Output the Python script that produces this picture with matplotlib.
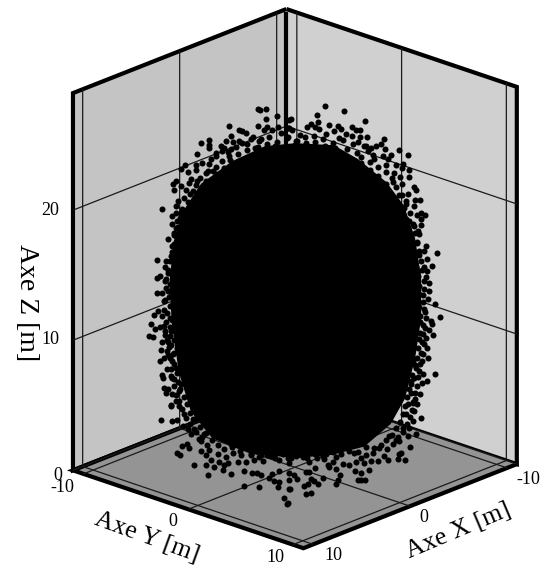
import matplotlib
matplotlib.use('Agg')
import matplotlib.pyplot as plt
import numpy as np
from mpl_toolkits.mplot3d.art3d import Poly3DCollection

plt.rcParams['font.family'] = ['Liberation Serif', 'DejaVu Serif']

x_lim = (-11, 11)
y_lim = (-11, 11)
z_lim = (0, 29)
x_ticks = [-10, 0, 10]
y_ticks = [-10, 0, 10]
z_ticks = [0, 10, 20]

# solid black middle of the cloud, outline (across = along the screen, z up)
core_across = [0, 1.9, 3.1, 4.5, 5.35, 5.9, 6.2, 6.2, 5.9, 5.4, 4.7, 3.4, 1.8, 0, -2.25, -4.1,
               -5.15, -5.75, -6.1, -6.2, -6.0, -5.5, -4.65, -3.1, -1.5]
core_z = [24.9, 24.7, 23.6, 21.8, 20.0, 17.5, 14.43, 11.36, 8.29, 5.22, 3.3, 1.6, 1.0, 0.8, 1.2, 2.4,
          4.45, 7.52, 11.36, 14.43, 17.5, 19.9, 21.9, 23.6, 24.7]

# dots around the edge of the cloud, depth can not be read from the picture so
# these sit on the plane x = -y through the middle
mid_across = [-1.83, -1.72, -1.44, -1.44, -0.91, -1.83, -3.26, -2.76, -2.64, -2.41, -3.17, -3.42, -4.26, -4.64, -4.25, -4.25,
              -4.83, -3.64, -3.5, -3.92, -5.45, -5.65, -5.32, -4.88, -4.88, -6.02, -5.87, -5.98, -5.65, -6.61, -5.77, -5.87,
              -6.07, -5.87, -6.07, -5.87, -6.31, -5.98,
              -1.36, -1.52, -1.11, -0.86, -0.69, -0.36, -0.28, -2.07, -1.69, -2.35, -2.76, -3.09, -3.17, -3.59, -3.92, -4.17,
              -4.58, -4.25, -4.41, -4.08, -5.16, -5.24, -4.83, -5.4, -5.07, -5.49, -4.91, -5.65, -5.24, -5.82, -5.4, -5.98,
              -5.65, -3.26, -2.84, -2.35, -1.85, -1.36,
              1.49, 2.41, 1.12, 1.16, -0.2, 3.49, 0.58, 0.79, 1.01, 1.21, 1.67, 2.12, 2.83, 3.02, 3.22, 2.81,
              3.22, 3.57, 0.26, 1.95, 2.28, 2.53, 4.43, 4.26, 4.01, 3.77, 4.46, 3.52, 5.17, 5.6, 4.76, 4.6,
              4.35, 5.34, 5.29, 5.65, 5.65, 5.22, 5.29, 5.92, 6.0, 5.59, 6.21, 5.97, 5.92, 6.46, 6.25, 6.05,
              6.25, 6.25, 5.92, 6.08, 6.17, 5.01, 4.93, 4.51, 4.84, 5.17, 5.5, 5.67, 5.42, 3.85, 3.93, 3.11,
              3.44, 2.2, 1.54, 0.96, 0.55, 0.05, -0.28, -0.12, -0.36,
              -6.81, -6.41, -6.15, -6.43, -6.68, -6.81, -6.43, -6.07, -6.84, -6.61, -6.31, -6.43, -6.97, -6.77, -6.6, -6.48,
              -7.14, -6.91, -6.69, -6.48, -7.22, -7.05, -6.43, -6.15, -6.61, -6.35, -5.98, -6.64, -6.23, -6.31, -6.68, -6.48,
              -5.98, -6.35, -6.6, -6.53, -6.15, -5.98, -6.48, -6.27, -6.4, -6.07, -6.12, -5.9, -5.74, -5.65, -5.9, -6.07,
              -5.82, -6.07, -5.9, -6.07, -5.9, -6.31, -5.9, -5.82, -6.07,
              7.04, 6.5, 6.05, 6.41, 6.17, 6.53, 6.79, 6.41, 6.08, 6.55, 6.5, 6.63, 6.66, 6.33, 6.58, 6.93,
              6.41, 7.18, 6.74, 6.78, 6.33, 6.63, 6.86, 6.5, 6.3, 6.55, 6.25, 6.58, 6.22, 6.02, 6.94, 6.33,
              6.53, 6.28, 5.92, 5.75, 6.2, 5.75, 5.97, 6.05, 5.59, 6.0, 5.75, 6.0, 5.92, 5.84, 5.75, 5.92,
              -6.12, -6.64, -6.07, -5.82, -5.57, -5.31, -5.74, -5.16, -4.99, -5.62, -5.36, -5.24, -5.07, -5.49, -4.66, -4.74,
              -4.5, -5.85, -5.69, -4.99, -4.41, -4.41, -4.0, -4.17, -3.75, -3.5, -3.34, -4.25, -3.83, -3.42, -3.09, -2.84,
              -2.43, -2.02, -1.6, -1.19, -0.78, -0.53, -3.17, -2.68, -2.18, -1.69, -0.94, -4.66,
              -0.28, 0.38, 0.71, 1.12, 1.45, 1.62, 1.87, 2.36, 2.69, 3.02, 3.44, 3.27, 3.77, 4.1, 4.43, 4.6,
              5.09, 5.47, 5.26, 5.14, 5.7, 5.59, 6.0, 4.68, 5.0, 4.18, 3.85, 3.52, 2.94, 2.03, 1.54, 0.55,
              0.05, -0.36, 6.25, 5.83, 5.92, 5.5, 5.83, 5.34, 5.67, 5.17]
mid_z = [27.6, 27.47, 27.55, 26.78, 27.03, 26.3, 26.34, 26.0, 25.88, 25.73, 25.55, 25.19, 25.27, 25.06, 24.9, 24.65,
         24.19, 24.78, 24.65, 24.27, 23.32, 23.04, 22.84, 23.32, 22.99, 21.94, 22.1, 21.46, 21.71, 19.97, 20.61, 20.23,
         19.46, 19.67, 18.82, 18.52, 17.67, 18.0,
         26.19, 25.93, 25.93, 26.19, 25.68, 26.06, 26.7, 25.42, 25.29, 24.91, 25.17, 25.04, 24.53, 24.4, 24.02, 23.76,
         23.5, 23.38, 22.74, 22.86, 22.3, 21.97, 22.1, 21.46, 21.33, 20.82, 20.82, 19.67, 19.8, 19.03, 18.9, 18.13,
         17.75, 24.02, 24.14, 24.4, 24.65, 24.91,
         27.77, 27.31, 27.03, 26.52, 26.75, 26.57, 26.14, 26.39, 26.14, 25.98, 26.24, 26.19, 26.06, 25.86, 25.86, 25.42,
         25.29, 25.34, 25.55, 25.8, 25.93, 25.55, 25.12, 24.78, 24.6, 24.45, 24.4, 24.65, 24.27, 23.86, 23.89, 23.63,
         23.84, 23.2, 22.86, 22.69, 22.2, 22.22, 21.64, 21.38, 21.2, 20.87, 20.43, 20.43, 19.92, 19.23, 19.41, 19.28,
         18.98, 18.47, 18.39, 18.0, 17.8, 23.12, 22.48, 23.12, 21.84, 20.82, 20.31, 18.77, 19.8, 23.89, 23.63, 24.91,
         24.65, 25.29, 25.55, 25.42, 24.91, 25.04, 26.06, 25.93, 25.42,
         16.09, 15.96, 16.34, 15.5, 14.88, 14.73, 14.42, 15.06, 13.53, 13.53, 13.66, 13.02, 11.82, 12.17, 11.74, 12.25,
         11.18, 10.74, 10.92, 11.02, 10.23, 10.2, 10.33, 10.64, 9.77, 9.92, 9.92, 9.18, 9.36, 8.8, 8.29, 8.54,
         8.93, 7.7, 7.21, 7.0, 7.14, 6.88, 6.24, 6.16, 5.86, 5.73, 4.88, 5.22, 5.98, 6.5, 7.78, 8.29,
         9.31, 11.48, 11.99, 12.63, 13.27, 15.06, 15.7, 16.47, 17.11,
         16.29, 16.85, 17.11, 16.52, 16.52, 15.83, 15.32, 15.24, 14.94, 14.94, 14.48, 14.04, 13.4, 13.09, 12.81, 12.38,
         12.0, 11.41, 11.1, 10.9, 10.79, 10.38, 10.0, 9.82, 9.51, 9.0, 8.67, 8.24, 7.83, 7.52, 7.01, 7.06,
         6.5, 6.37, 6.75, 6.24, 5.47, 5.6, 5.14, 4.71, 4.71, 14.17, 13.4, 11.36, 9.82, 8.03, 15.96, 15.58,
         4.83, 3.81, 3.68, 3.73, 3.3, 3.04, 4.83, 2.66, 3.04, 1.76, 1.94, 1.59, 3.81, 4.2, 1.38, 2.28,
         2.66, 1.25, 1.07, 0.31, 1.0, 0.23, 0.1, 0.61, 0.49, 0.23, 0.36, 1.38, 1.13, 0.87, 1.13, 0.49,
         0.49, 0.61, 0.49, 0.87, 0.61, 1.13, 1.89, 1.0, 1.0, 1.0, 1.38, 2.15,
         0.36, 0.74, 0.36, 0.66, 0.61, 0.1, 0.36, 0.23, 0.1, 0.36, 0.23, 0.61, 0.36, 0.41, 0.74, 0.49,
         0.49, 0.43, 1.0, 0.87, 1.46, 2.28, 2.4, 2.28, 2.02, 1.38, 1.0, 0.87, 1.0, 0.74, 1.0, 0.87,
         0.87, 0.74, 3.68, 3.43, 4.2, 3.94, 4.83, 2.92, 2.92, 1.89]

# closer packed dots between the core and the loose edge, (across, z) estimated by eye
band_points = [(-2.6, 25.0), (-2.2, 25.3), (-1.8, 25.1), (-1.3, 25.4), (-0.9, 25.0), (-0.4, 25.3), (0.1, 25.1), (0.5, 25.4),
               (1.0, 25.0), (1.4, 25.2), (1.9, 24.9), (2.4, 25.1), (2.9, 24.8),
               (-3.3, 24.3), (-2.9, 24.7), (-2.0, 24.6), (-1.5, 24.5), (-1.0, 24.7), (-0.5, 24.5), (0.0, 24.8), (0.5, 24.6),
               (1.0, 24.5), (1.5, 24.7), (2.0, 24.5), (2.6, 24.4), (3.1, 24.1), (3.6, 24.2),
               (-3.6, 23.6), (-3.2, 23.7), (-3.9, 23.2), (-3.5, 23.1), (-4.3, 22.9), (-3.9, 22.6), (-4.7, 22.3), (-4.4, 22.1),
               (-4.9, 21.8), (-4.7, 21.4), (-5.2, 21.1), (-4.9, 20.9), (-5.3, 20.5), (-5.1, 20.2), (-5.6, 20.0), (-5.4, 19.6),
               (-5.7, 19.3), (-5.5, 19.0), (-5.8, 18.6), (-5.6, 18.3), (-5.9, 17.9), (-5.7, 17.6), (-6.0, 17.3), (-5.8, 17.0),
               (-6.1, 16.7), (-5.9, 16.3), (-6.2, 16.0), (-6.0, 15.6), (-6.3, 15.3), (-6.1, 14.9), (-6.4, 14.6), (-6.2, 14.2),
               (-6.4, 13.9), (-6.15, 13.6), (-6.25, 13.2), (-6.5, 12.9), (-6.2, 12.5), (-6.35, 12.0), (-6.2, 11.6), (-6.4, 11.3),
               (-6.2, 10.9), (-6.45, 10.6), (-6.2, 10.2), (-6.3, 9.8), (-6.15, 9.5), (-6.35, 9.1), (-6.05, 8.8), (-6.2, 8.5),
               (-6.0, 8.1), (-6.15, 7.7), (-5.85, 7.4), (-6.1, 7.0), (-5.8, 6.7), (-6.0, 6.4), (-5.7, 6.1), (-5.9, 5.7),
               (-5.5, 5.5), (-5.75, 5.2), (-5.35, 5.0), (-5.6, 4.6), (-5.2, 4.3), (-5.4, 3.9), (-4.95, 3.8), (-5.2, 3.4),
               (-4.7, 3.2), (-4.9, 2.8), (-4.4, 2.7), (-4.6, 2.4), (-4.1, 2.2), (-4.35, 1.8), (-3.8, 1.8), (-3.5, 1.5),
               (-3.1, 1.6), (-2.7, 1.3),
               (3.3, 23.8), (3.7, 23.4), (3.3, 23.3), (4.1, 23.0), (3.7, 22.8), (4.5, 22.6), (4.1, 22.3), (4.8, 22.1),
               (4.5, 21.7), (5.0, 21.4), (4.7, 21.0), (5.3, 20.8), (4.95, 20.4), (5.5, 20.1), (5.3, 19.5), (5.7, 19.4),
               (5.5, 19.0), (5.85, 18.6), (5.6, 18.3), (5.95, 17.9), (5.75, 17.5), (6.05, 17.2), (5.8, 16.9), (6.15, 16.2),
               (5.9, 16.0), (6.25, 15.7), (6.0, 15.3), (6.3, 15.0), (6.1, 14.6), (6.4, 14.2), (6.15, 13.8), (6.4, 13.6),
               (6.15, 13.2), (6.35, 12.6), (6.15, 12.2), (6.45, 11.8), (6.2, 11.5), (6.5, 11.3), (6.2, 11.0), (6.45, 10.6),
               (6.2, 10.2), (6.35, 10.1), (6.15, 9.7), (6.4, 9.3), (6.1, 9.0), (6.35, 8.6), (6.05, 8.3), (6.3, 8.0),
               (5.95, 7.7), (6.15, 7.3), (5.8, 7.0), (6.1, 6.8), (5.75, 6.5), (6.05, 6.1), (5.65, 5.9), (5.95, 5.6),
               (5.55, 5.3), (5.85, 4.9), (5.45, 4.6), (5.8, 4.3), (5.35, 4.0), (5.7, 3.7), (5.2, 3.4), (5.55, 3.2),
               (5.0, 2.9), (5.35, 2.6), (4.8, 2.4), (5.1, 2.2), (4.5, 2.0), (4.85, 1.7), (4.25, 1.6), (4.55, 1.3),
               (3.9, 1.4), (3.5, 1.5), (3.15, 1.1), (2.7, 1.2), (2.3, 1.0), (1.9, 1.1), (1.4, 0.8), (1.0, 1.0),
               (0.6, 0.7), (0.2, 1.0), (-0.2, 0.7), (-0.6, 1.0), (-1.0, 0.7), (-1.4, 1.0), (-1.8, 0.8), (-2.2, 1.1)]

# dots lying on the floor in front of the cloud, on the plane x + y = 12
front_across = [-4.55, -3.79, -3.42, -2.73, -2.35, -2.13, -1.93, -1.52, -1.36, -1.02, -1.27, -1.02, -1.06, -2.73, -2.02, -0.78,
                -0.58, -0.5, -0.53, -0.61, -0.45, -0.53, -0.28, -0.12, 0.3, 0.46, 0.21, 0.43, 0.33, 0.58, 0.55, 0.71,
                0.91, 1.17, 0.79, 1.79, 1.92, 2.03, 2.73, 3.03, 3.44, 2.89, 3.03, 3.24, 1.45, 1.79]
front_z = [2.89, 3.27, 2.97, 3.15, 3.02, 3.02, 2.84, 2.58, 2.92, 3.09, 2.33, 2.25, 1.87, 2.02, 1.89, 1.05,
           0.66, 1.74, 2.46, 0.61, 1.74, 2.97, 2.84, 2.46, 3.02, 3.02, 1.94, 2.07, 1.3, 1.43, 2.46, 2.33,
           2.07, 2.53, 3.35, 2.07, 2.38, 2.76, 3.02, 2.92, 3.09, 2.38, 2.33, 2.38, 3.35, 3.22]

fig = plt.figure(figsize=(5.47, 5.68), dpi=100)
ax = fig.add_axes([14 / 547, -2 / 568, 1, 1], projection='3d')
ax.set_proj_type('ortho')
ax.view_init(elev=21.4, azim=42.8)
ax.set_box_aspect((1, 1, 1.29), zoom=1.067)

ax.set_xlim(x_lim)
ax.set_ylim(y_lim)
ax.set_zlim(z_lim)
ax.set_xticks(x_ticks, labels=[])
ax.set_yticks(y_ticks, labels=[])
ax.set_zticks(z_ticks, labels=[])

# walls and floor
for axis, colour in [(ax.xaxis, '#d0d0d0'), (ax.yaxis, '#c4c4c4'), (ax.zaxis, '#949494')]:
    axis.set_pane_color(colour)
    axis.pane.set_edgecolor('black')
    axis.pane.set_linewidth(3)
    axis.line.set_linewidth(0)
    axis._axinfo['grid'].update(color='#1a1a1a', linewidth=0.9)
    axis._axinfo['tick'].update(inward_factor=0, outward_factor=0)
ax.grid(True)

# the back corner post
ax.plot([x_lim[0], x_lim[0]], [y_lim[0], y_lim[0]], z_lim, color='black', linewidth=3)

core = np.array(core_across)
mid = np.array(mid_across)
front = np.array(front_across)
band_across, band_z = np.array(band_points).T
ax.add_collection3d(Poly3DCollection([list(zip(-core, core, core_z))], facecolor='black', edgecolor='black'))
ax.scatter(-mid, mid, mid_z, s=19, c='black', linewidths=0, depthshade=False)
ax.scatter(-band_across, band_across, band_z, s=19, c='black', linewidths=0, depthshade=False)
ax.scatter(6 - front, 6 + front, front_z, s=19, c='black', linewidths=0, depthshade=False)

# tick labels by hand, the 3d axes can not put them this close to the box
for px, py, label in [(50, 210, '20'), (50, 340, '10'), (58, 475, '0'),
                      (62, 487, '-10'), (173, 522, '0'), (275, 557, '10'),
                      (333, 555, '10'), (424, 517, '0'), (528, 479, '-10')]:
    fig.text(px / 547, 1 - py / 568, label, fontsize=13, ha='center', va='center')

fig.text(26 / 547, 1 - 303 / 568, 'Axe Z [m]', rotation=-90, fontsize=20, ha='center', va='center')
fig.text(147 / 547, 1 - 537 / 568, 'Axe Y [m]', rotation=-20, fontsize=18.5, ha='center', va='center')
fig.text(458 / 547, 1 - 531 / 568, 'Axe X [m]', rotation=23, fontsize=18.5, ha='center', va='center')

fig.savefig('out.png', dpi=100)
